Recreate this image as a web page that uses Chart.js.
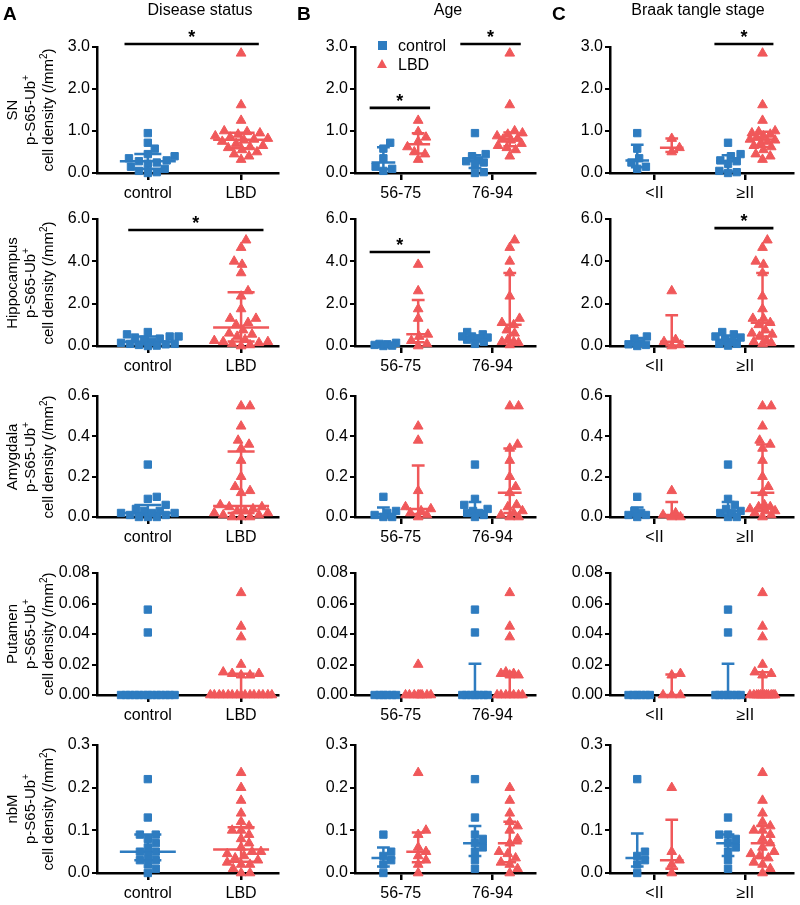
<!DOCTYPE html>
<html>
<head>
<meta charset="utf-8">
<script src="https://cdn.jsdelivr.net/npm/chart.js@4"></script>
<style>
  body { margin: 0; background: #fff; font-family: "Liberation Sans", Arial, Helvetica, sans-serif; }
  #wrap { position: relative; width: 800px; height: 905px; overflow: hidden; }
  #wrap canvas { position: absolute; }
  .lbl { position: absolute; color: #000; white-space: nowrap; line-height: 1; }
  .letter { font-size: 19px; font-weight: bold; }
  .head { font-size: 16px; transform: translateX(-50%); }
  .ytitle { position: absolute; width: 180px; height: 54px; font-size: 15px; line-height: 18px;
            text-align: center; transform: rotate(-90deg); white-space: nowrap; }
  .leg { font-size: 16px; }
  .sq { position: absolute; width: 9px; height: 9px; background: #2E7CC0; }
  .tri { position: absolute; width: 0; height: 0; border-left: 5.5px solid transparent;
         border-right: 5.5px solid transparent; border-bottom: 9px solid #F0585A; }
</style>
</head>
<body>
<div id="wrap"></div>
<script>
const family = '"Liberation Sans", Arial, Helvetica, sans-serif';
const blue = '#2E7CC0';
const red = '#F0585A';

// columns / rows
const colLetters = ['A', 'B', 'C'];
const colTitles = ['Disease status', 'Age', 'Braak tangle stage'];
const tickNames = [['control', 'LBD'], ['56-75', '76-94'], ['<II', '≥II']];
const seriesNames = ['control', 'LBD'];
const regions = ['SN', 'Hippocampus', 'Amygdala', 'Putamen', 'nbM'];
const yMax = [3, 6, 0.6, 0.08, 0.3];
const yStep = [1, 2, 0.2, 0.02, 0.1];
const yDec = [1, 1, 1, 2, 1];

// subject groups: age 1 = 56-75, 2 = 76-94 ; braak 1 = <II, 2 = >=II
const ctrlAge   = [2, 1, 1, 2, 2, 1, 2, 2, 2, 2, 1, 1, 1, 2, 2];
const ctrlBraak = [1, 2, 1, 2, 2, 1, 2, 2, 1, 2, 1, 1, 2, 2, 2];
const lbdAge    = [2, 2, 1, 2, 1, 2, 2, 2, 1, 2, 2, 2, 1, 2, 2, 1, 2, 2, 1, 1, 2, 1, 2, 1];
const lbdBraak  = [2, 2, 2, 2, 2, 2, 2, 2, 2, 1, 2, 2, 2, 2, 2, 2, 1, 2, 1, 2, 2, 2, 1, 1];

// p-S65-Ub+ cell density (/mm2) per subject
const snCtrl  = [0.95, 0.72, 0.58, 0.45, 0.40, 0.35, 0.30, 0.28, 0.25, 0.22, 0.15, 0.10, 0.05, 0.02, 0.00];
const snLbd   = [2.85, 1.62, 1.25, 1.00, 0.98, 0.95, 0.92, 0.88, 0.85, 0.82, 0.80, 0.78, 0.75, 0.70, 0.65, 0.62, 0.60, 0.55, 0.50, 0.45, 0.40, 0.32, null, null];
const hipCtrl = [0.45, 0.10, 0.05, 0.66, 0.55, 0.15, 0.40, 0.30, 0.35, 0.20, 0.00, 0.08, 0.02, 0.45, 0.10];
const hipLbd  = [5.00, 4.65, 3.85, 4.00, 1.75, 3.45, 2.35, 1.30, 1.30, 0.30, 1.10, 1.00, 0.45, 0.75, 0.60, 0.55, 0.20, 0.20, 2.60, 0.25, 0.15, 0.10, 0.05, 0.00];
const amyCtrl = [0.02, 0.02, 0.10, 0.26, 0.09, 0.03, 0.06, 0.04, 0.01, 0.03, 0.00, 0.01, 0.00, 0.02, 0.00];
const amyLbd  = [0.55, 0.55, 0.45, 0.36, 0.38, 0.34, 0.28, 0.20, 0.05, 0.02, 0.15, 0.12, 0.04, 0.06, 0.05, 0.03, 0.00, 0.01, 0.13, 0.02, 0.03, 0.00, 0.00, 0.01];
const putCtrl = [0, 0, 0, 0.056, 0.041, 0, 0, 0, 0, 0, 0, 0, 0, 0, 0];
const putLbd  = [0.067, 0.045, 0.020, 0.038, 0, 0.014, 0.015, 0.013, 0, 0.014, 0, 0, 0, 0, 0, 0, 0.013, 0, 0, 0, 0, 0, 0, 0];
const nbmCtrl = [0.22, 0.05, 0.03, 0.13, 0.09, 0.04, 0.08, 0.06, 0.05, 0.07, 0.00, 0.02, 0.09, 0.03, 0.01];
const nbmLbd  = [0.17, 0.14, 0.235, 0.12, 0.10, 0.11, 0.10, 0.08, 0.09, 0.20, 0.07, 0.045, 0.06, 0.035, 0.025, 0.05, 0.05, 0.01, 0.03, 0.04, 0.00, 0.02, 0.02, 0.00];

const ctrlValues = [snCtrl, hipCtrl, amyCtrl, putCtrl, nbmCtrl];
const lbdValues = [snLbd, hipLbd, amyLbd, putLbd, nbmLbd];

// significance bars (*)
const sigBars = [
  { row: 0, col: 0, x1: 0.75, x2: 2.19, y: 3.07 },
  { row: 0, col: 1, x1: 0.66, x2: 1.32, y: 1.55 },
  { row: 0, col: 1, x1: 1.65, x2: 2.31, y: 3.07 },
  { row: 0, col: 2, x1: 1.66, x2: 2.31, y: 3.07 },
  { row: 1, col: 0, x1: 0.79, x2: 2.24, y: 5.48 },
  { row: 1, col: 1, x1: 0.66, x2: 1.32, y: 4.44 },
  { row: 1, col: 2, x1: 1.66, x2: 2.31, y: 5.57 }
];

// layout
const rowTop = [47, 219, 396, 573, 745];
const rowBottom = [173, 346, 517, 695, 873];
const cols = [
  { left: 0, width: 285, yW: 97, padR: 5, xMin: 0.455, xMax: 2.4 },
  { left: 285, width: 257, yW: 70, padR: 2, xMin: 0.5, xMax: 2.47 },
  { left: 545, width: 255, yW: 65, padR: 0, xMin: 0.51, xMax: 2.53 }
];
const PAD_TOP = 40, X_H = 32, PX_PER_X = 94;

const wrap = document.getElementById('wrap');

function addLabel(cls, text, left, top) {
  const d = document.createElement('div');
  d.className = 'lbl ' + cls;
  d.textContent = text;
  d.style.left = left + 'px';
  d.style.top = top + 'px';
  wrap.appendChild(d);
  return d;
}

// GraphPad style percentile
function pct(sorted, p) {
  const n = sorted.length;
  let pos = (n + 1) * p;
  if (pos < 1) pos = 1;
  if (pos > n) pos = n;
  const lo = Math.floor(pos), f = pos - lo;
  if (lo >= n) return sorted[n - 1];
  return sorted[lo - 1] + f * (sorted[lo] - sorted[lo - 1]);
}

// spread points sideways so they don't overlap (pixel units)
function swarm(vals, yPx, halfW) {
  const placed = [];
  const out = vals.map(() => 0);
  const idx = vals.map((v, i) => i).sort((a, b) => vals[a] - vals[b]);
  const minD = 8.5;
  idx.forEach(i => {
    const py = vals[i] * yPx;
    let best = 0, bestD = -1, done = false;
    for (let k = 0; k <= halfW && !done; k++) {
      const cands = k === 0 ? [0] : [k, -k];
      for (const s of cands) {
        let d = Infinity;
        placed.forEach(p => { d = Math.min(d, Math.hypot(p.x - s, p.y - py)); });
        if (d >= minD) { best = s; done = true; break; }
        if (d > bestD) { bestD = d; best = s; }
      }
    }
    placed.push({ x: best, y: py });
    out[i] = best;
  });
  return out;
}

function panelGroups(row, col) {
  const c = ctrlValues[row], l = lbdValues[row];
  const groups = [];
  if (col === 0) {
    groups.push({ s: 0, xc: 1, vals: c.filter(v => v !== null) });
    groups.push({ s: 1, xc: 2, vals: l.filter(v => v !== null) });
  } else {
    const ca = col === 1 ? ctrlAge : ctrlBraak;
    const la = col === 1 ? lbdAge : lbdBraak;
    [1, 2].forEach(g => {
      groups.push({ s: 0, xc: g - 0.19, vals: c.filter((v, i) => v !== null && ca[i] === g) });
      groups.push({ s: 1, xc: g + 0.19, vals: l.filter((v, i) => v !== null && la[i] === g) });
    });
  }
  return groups;
}

const starPlugin = {
  id: 'stars',
  afterDatasetsDraw(chart, args, opts) {
    const { ctx } = chart;
    const x = chart.scales.x, y = chart.scales.y;
    ctx.save();
    ctx.font = 'bold 18px ' + family;
    ctx.textAlign = 'center';
    ctx.textBaseline = 'alphabetic';
    ctx.fillStyle = '#000';
    (opts.bars || []).forEach(b => {
      ctx.fillText('*', x.getPixelForValue((b.x1 + b.x2) / 2), y.getPixelForValue(b.y) - 1);
    });
    ctx.restore();
  }
};

function makePanel(row, col) {
  const cfg = cols[col];
  const plotH = rowBottom[row] - rowTop[row];
  const yPx = plotH / yMax[row];
  const halfW = col === 0 ? 31 : 13;
  const medW = col === 0 ? 0.3 : 0.13;
  const capW = col === 0 ? 0.145 : 0.07;

  const pts = [[], []], err = [[], []];
  panelGroups(row, col).forEach(g => {
    const offs = swarm(g.vals, yPx, halfW);
    g.vals.forEach((v, i) => pts[g.s].push({ x: g.xc + offs[i] / PX_PER_X, y: v }));
    const s = g.vals.slice().sort((a, b) => a - b);
    if (!s.length) return;
    const med = pct(s, 0.5), q1 = pct(s, 0.25), q3 = pct(s, 0.75), x = g.xc;
    err[g.s].push(
      { x: x - medW, y: med }, { x: x + medW, y: med }, { x: x, y: null },
      { x: x, y: q1 }, { x: x, y: q3 }, { x: x, y: null },
      { x: x - capW, y: q1 }, { x: x + capW, y: q1 }, { x: x, y: null },
      { x: x - capW, y: q3 }, { x: x + capW, y: q3 }, { x: x, y: null }
    );
  });

  const colors = [blue, red];
  const styles = ['rect', 'triangle'];
  const datasets = [];
  [0, 1].forEach(s => {
    datasets.push({
      label: seriesNames[s], data: pts[s], pointStyle: styles[s],
      pointRadius: s === 0 ? 5.2 : 5.6, pointBackgroundColor: colors[s],
      pointBorderColor: colors[s], pointBorderWidth: 1, showLine: false, clip: false
    });
  });
  [0, 1].forEach(s => {
    datasets.push({
      label: seriesNames[s] + ' median/IQR', data: err[s], showLine: true, spanGaps: false,
      borderColor: colors[s], borderWidth: 2.5, pointRadius: 0, clip: false
    });
  });
  const bars = sigBars.filter(b => b.row === row && b.col === col);
  bars.forEach(b => {
    datasets.push({
      label: 'sig', data: [{ x: b.x1, y: b.y }, { x: b.x2, y: b.y }], showLine: true,
      borderColor: '#000', borderWidth: 2.6, pointRadius: 0, clip: false
    });
  });

  const cv = document.createElement('canvas');
  const h = PAD_TOP + plotH + X_H;
  cv.width = cfg.width;
  cv.height = h;
  cv.style.left = cfg.left + 'px';
  cv.style.top = (rowTop[row] - PAD_TOP) + 'px';
  wrap.appendChild(cv);

  new Chart(cv, {
    type: 'scatter',
    data: { datasets: datasets },
    options: {
      responsive: false,
      animation: false,
      devicePixelRatio: 1,
      layout: { padding: { top: PAD_TOP, right: cfg.padR, left: 0, bottom: 0 } },
      scales: {
        x: {
          type: 'linear', min: cfg.xMin, max: cfg.xMax,
          afterBuildTicks: sc => { sc.ticks = [{ value: 1 }, { value: 2 }]; },
          afterFit: sc => { sc.height = X_H; },
          ticks: {
            callback: v => tickNames[col][Math.round(v) - 1],
            color: '#000', font: { size: 16, family: family }, padding: 4,
            maxRotation: 0, autoSkip: false
          },
          grid: { drawOnChartArea: false, drawTicks: true, tickLength: 7, color: '#000', lineWidth: 2.5 },
          border: { color: '#000', width: 2.5 }
        },
        y: {
          min: 0, max: yMax[row],
          afterFit: sc => { sc.width = cfg.yW; },
          ticks: {
            stepSize: yStep[row], callback: v => Number(v).toFixed(yDec[row]),
            color: '#000', font: { size: 16, family: family }, padding: 2
          },
          grid: { drawOnChartArea: false, drawTicks: true, tickLength: 5, color: '#000', lineWidth: 2 },
          border: { color: '#000', width: 2.5 }
        }
      },
      plugins: {
        legend: { display: false },
        tooltip: { enabled: false },
        stars: { bars: bars }
      }
    },
    plugins: [starPlugin]
  });
}

for (let r = 0; r < regions.length; r++) {
  for (let c = 0; c < 3; c++) makePanel(r, c);
}

// headings
addLabel('letter', colLetters[0], 3, 4);
addLabel('letter', colLetters[1], 297, 4);
addLabel('letter', colLetters[2], 552, 4);
addLabel('head', colTitles[0], 200, 2);
addLabel('head', colTitles[1], 448, 2);
addLabel('head', colTitles[2], 698, 2);

// y axis titles for column A
regions.forEach((name, r) => {
  const d = document.createElement('div');
  d.className = 'ytitle';
  d.innerHTML = name + '<br>p-S65-Ub<sup style="font-size:10px;line-height:0">+</sup><br>cell density (/mm<sup style="font-size:10px;line-height:0">2</sup>)';
  const cy = (rowTop[r] + rowBottom[r]) / 2;
  d.style.left = (30 - 90) + 'px';
  d.style.top = (cy - 27) + 'px';
  wrap.appendChild(d);
});

// legend (panel B, first row)
const sq = document.createElement('div');
sq.className = 'sq'; sq.style.left = '378px'; sq.style.top = '41px';
wrap.appendChild(sq);
const tri = document.createElement('div');
tri.className = 'tri'; tri.style.left = '377px'; tri.style.top = '59px';
wrap.appendChild(tri);
addLabel('leg', seriesNames[0], 398, 38);
addLabel('leg', seriesNames[1], 398, 57);
</script>
</body>
</html>
